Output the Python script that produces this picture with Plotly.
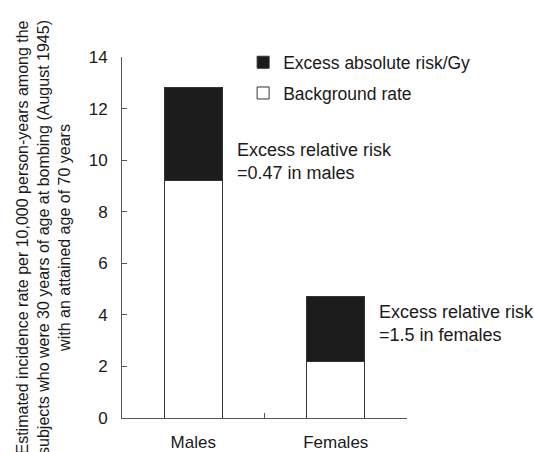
import plotly.graph_objects as go

categories = ["Males", "Females"]
background_rate = [9.2, 2.2]
excess_absolute = [3.6, 2.5]
err_labels = ["Excess relative risk<br>=0.47 in males", "Excess relative risk<br>=1.5 in females"]
label_y = [9.95, 3.65]

FONT = "Arial, Liberation Sans, sans-serif"
TXT = "#1a1a1a"
fig = go.Figure()
fig.add_trace(go.Bar(
    x=categories, y=background_rate, name="Background rate",
    marker=dict(color="white", line=dict(color="#333333", width=1)),
    width=0.41, legendgroup="b", legendrank=2,
))
fig.add_trace(go.Bar(
    x=categories, y=excess_absolute, name="Excess absolute risk/Gy",
    marker=dict(color="#1c1c1c", line=dict(color="#333333", width=1)),
    width=0.41, legendgroup="a", legendrank=1,
))
for i, (t, yv) in enumerate(zip(err_labels, label_y)):
    fig.add_annotation(x=i + 0.29, y=yv, text=t, showarrow=False, xanchor="left",
                       align="left", font=dict(family=FONT, size=18, color=TXT))

fig.update_layout(
    barmode="stack",
    width=534, height=452,
    margin=dict(l=122, r=127, t=57, b=34),
    paper_bgcolor="white", plot_bgcolor="white",
    font=dict(family=FONT, size=17, color=TXT),
    showlegend=True,
    legend=dict(x=0.425, y=1.035, xanchor="left", yanchor="top",
                traceorder="grouped", tracegroupgap=5,
                font=dict(family=FONT, size=17.5, color=TXT), bgcolor="rgba(0,0,0,0)"),
    xaxis=dict(type="category", showline=True, linecolor="#555555", linewidth=1,
               ticks="inside", tickson="boundaries", ticklen=5, tickcolor="#555555",
               showgrid=False, range=[-0.5, 1.5], ticklabelstandoff=9, automargin=False,
               tickfont=dict(family=FONT, size=17, color=TXT)),
    yaxis=dict(range=[0, 14], dtick=2, showline=True, linecolor="#555555", linewidth=1,
               ticks="inside", ticklen=5, tickcolor="#555555", showgrid=False,
               zeroline=False, ticklabelstandoff=10, automargin=False,
               tickfont=dict(family=FONT, size=17, color=TXT),
               title=dict(text="Estimated incidence rate per 10,000 person-years among the<br>"
                               "subjects who were 30 years of age at bombing (August 1945)<br>"
                               "with an attained age of 70 years",
                          font=dict(family=FONT, size=16, color=TXT), standoff=14)),
)
fig.write_html("out.html", config={"displayModeBar": False},
               post_script="document.body.style.margin='0';")
